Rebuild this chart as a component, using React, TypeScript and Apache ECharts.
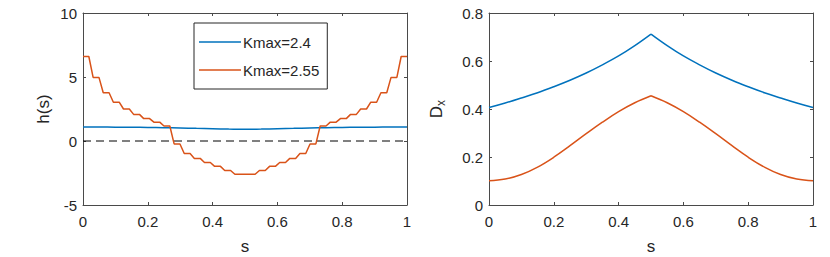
import React, { useEffect, useRef } from 'react';
import * as echarts from 'echarts';

// h(s), Kmax = 2.4 (smooth)
const hBlueS = [0, 0.05, 0.1, 0.15, 0.2, 0.25, 0.3, 0.35, 0.4, 0.45, 0.5, 0.55, 0.6, 0.65, 0.7, 0.75, 0.8, 0.85, 0.9, 0.95, 1];
const hBlue = [1.09, 1.09, 1.08, 1.07, 1.06, 1.04, 1.02, 0.99, 0.96, 0.93, 0.91, 0.93, 0.96, 0.99, 1.02, 1.04, 1.06, 1.07, 1.08, 1.09, 1.09];

// h(s), Kmax = 2.55 (staircase)
const hOrangeS = [
  0, 0.018, 0.03125, 0.04925, 0.0625, 0.0805, 0.09375, 0.11175, 0.125, 0.143,
  0.15625, 0.17425, 0.1875, 0.2055, 0.21875, 0.23675, 0.25, 0.268, 0.28125, 0.29925,
  0.3125, 0.3305, 0.34375, 0.36175, 0.375, 0.393, 0.40625, 0.42425, 0.4375, 0.4555,
  0.46875, 0.53125,
  0.5445, 0.5625, 0.57575, 0.59375, 0.607, 0.625, 0.63825, 0.65625, 0.6695, 0.6875,
  0.70075, 0.71875, 0.732, 0.75, 0.76325, 0.78125, 0.7945, 0.8125, 0.82575, 0.84375,
  0.857, 0.875, 0.88825, 0.90625, 0.9195, 0.9375, 0.95075, 0.96875, 0.982, 1,
];
const hOrange = [
  6.6, 6.6, 4.97, 4.97, 3.77, 3.77, 3.03, 3.03, 2.5, 2.5,
  2.08, 2.08, 1.75, 1.75, 1.47, 1.47, 1.17, 1.17, -0.23, -0.23,
  -0.98, -0.98, -1.36, -1.36, -1.68, -1.68, -1.98, -1.98, -2.3, -2.3,
  -2.6, -2.6,
  -2.3, -2.3, -1.98, -1.98, -1.68, -1.68, -1.36, -1.36, -0.98, -0.98,
  -0.23, -0.23, 1.17, 1.17, 1.47, 1.47, 1.75, 1.75, 2.08, 2.08,
  2.5, 2.5, 3.03, 3.03, 3.77, 3.77, 4.97, 4.97, 6.6, 6.6,
];

// D_x
const dxS = [0, 0.05, 0.1, 0.15, 0.2, 0.25, 0.3, 0.35, 0.4, 0.45, 0.5, 0.55, 0.6, 0.65, 0.7, 0.75, 0.8, 0.85, 0.9, 0.95, 1];
const dxBlue = [0.406, 0.425, 0.446, 0.468, 0.493, 0.52, 0.55, 0.584, 0.621, 0.664, 0.712, 0.664, 0.621, 0.584, 0.55, 0.52, 0.493, 0.468, 0.446, 0.425, 0.406];
const dxOrange = [0.101, 0.108, 0.127, 0.158, 0.199, 0.247, 0.297, 0.345, 0.389, 0.426, 0.455, 0.426, 0.389, 0.345, 0.297, 0.247, 0.199, 0.158, 0.127, 0.108, 0.101];
const dxPeakIndex = 10;

const legendNames = ['Kmax=2.4', 'Kmax=2.55'];
const zeroLineS = [0, 1];
const zeroLineH = [0, 0];

const BLUE = '#0072BD';
const ORANGE = '#D95319';
const TXT = '#262626';
const AX = '#4a4a4a';
const FONT = "'Liberation Sans', Arial, Helvetica, sans-serif";

const zip = (a: number[], b: number[]) => a.map((v, i) => [v, b[i]]);

function mkX(gridIndex: number, top: boolean): any {
  return {
    type: 'value',
    gridIndex,
    position: top ? 'top' : 'bottom',
    min: 0,
    max: 1,
    interval: 0.2,
    axisLine: { show: true, onZero: false, lineStyle: { color: AX, width: 1 } },
    axisTick: { show: true, inside: true, length: 3, lineStyle: { color: AX } },
    axisLabel: { show: !top, margin: 9, color: TXT, fontSize: 15, fontFamily: FONT },
    splitLine: { show: false },
    ...(top ? {} : {
      name: 's',
      nameLocation: 'middle',
      nameGap: 33,
      nameTextStyle: { color: TXT, fontSize: 17, fontFamily: FONT },
    }),
  };
}

function mkY(gridIndex: number, right: boolean, min: number, max: number, interval: number, name?: any, nameGap?: number): any {
  return {
    type: 'value',
    gridIndex,
    position: right ? 'right' : 'left',
    min,
    max,
    interval,
    axisLine: { show: true, onZero: false, lineStyle: { color: AX, width: 1 } },
    axisTick: { show: true, inside: true, length: 3, lineStyle: { color: AX } },
    axisLabel: { show: !right, margin: 6, color: TXT, fontSize: 15, fontFamily: FONT },
    splitLine: { show: false },
    ...(name !== undefined ? {
      name,
      nameLocation: 'middle',
      nameGap,
      nameRotate: 90,
      nameTextStyle: {
        color: TXT,
        fontSize: 17,
        fontFamily: FONT,
        rich: {
          a: { fontSize: 17, fontFamily: FONT, color: TXT },
          b: { fontSize: 12, fontFamily: FONT, color: TXT, padding: [9, 0, 0, 0] },
        },
      },
    } : {}),
  };
}

export default function App() {
  const ref = useRef<HTMLDivElement>(null);
  useEffect(() => {
    document.body.style.margin = '0';
    const chart = echarts.init(ref.current!, null, { renderer: 'svg' });
    const line = (name: string, x: number, y: number, data: number[][], color: string, extra: any = {}) => ({
      type: 'line',
      name,
      xAxisIndex: x,
      yAxisIndex: y,
      data,
      symbol: 'none',
      showSymbol: false,
      lineStyle: { color, width: 1.5 },
      itemStyle: { color },
      ...extra,
    });
    const blueLeft = zip(dxS, dxBlue).slice(0, dxPeakIndex + 1);
    const blueRight = zip(dxS, dxBlue).slice(dxPeakIndex);
    const orLeft = zip(dxS, dxOrange).slice(0, dxPeakIndex + 1);
    const orRight = zip(dxS, dxOrange).slice(dxPeakIndex);
    const sm = { smooth: 0.4 };
    chart.setOption({
      animation: false,
      backgroundColor: '#ffffff',
      textStyle: { fontFamily: FONT },
      grid: [
        { left: 83, top: 13, width: 324, height: 192, outerBoundsMode: 'none', containLabel: false },
        { left: 489, top: 13, width: 324, height: 192, outerBoundsMode: 'none', containLabel: false },
      ],
      xAxis: [mkX(0, false), mkX(0, true), mkX(1, false), mkX(1, true)],
      yAxis: [
        mkY(0, false, -5, 10, 5, 'h(s)', 31),
        mkY(0, true, -5, 10, 5),
        mkY(1, false, 0, 0.8, 0.2, '{a|D}{b|x}', 42),
        mkY(1, true, 0, 0.8, 0.2),
      ],
      legend: {
        data: legendNames.map((n) => ({ name: n, icon: 'rect' })),
        orient: 'vertical',
        left: 194,
        top: 23,
        padding: [11, 8, 11, 5],
        itemGap: 12,
        itemWidth: 42,
        itemHeight: 1.6,
        borderColor: '#262626',
        borderWidth: 1,
        backgroundColor: '#ffffff',
        textStyle: { color: TXT, fontSize: 15, lineHeight: 16, fontFamily: FONT, padding: [0, 0, 0, -3] },
      },
      series: [
        line('zero', 0, 0, zip(zeroLineS, zeroLineH), '#000000', {
          lineStyle: { color: '#000000', width: 1, type: [8, 5] },
          silent: true,
        }),
        line(legendNames[0], 0, 0, zip(hBlueS, hBlue), BLUE, sm),
        line(legendNames[1], 0, 0, zip(hOrangeS, hOrange), ORANGE),
        line('Dx 2.4 a', 2, 2, blueLeft, BLUE, sm),
        line('Dx 2.4 b', 2, 2, blueRight, BLUE, sm),
        line('Dx 2.55 a', 2, 2, orLeft, ORANGE, sm),
        line('Dx 2.55 b', 2, 2, orRight, ORANGE, sm),
      ],
    });
    return () => chart.dispose();
  }, []);
  return <div ref={ref} style={{ position: 'fixed', left: 0, top: 0, width: 830, height: 257 }} />;
}
